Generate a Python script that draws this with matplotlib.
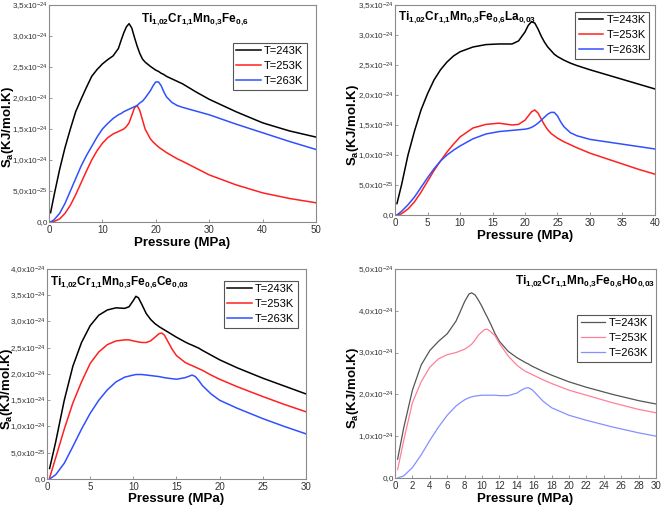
import numpy as np
import matplotlib
matplotlib.use("Agg")
import matplotlib.pyplot as plt
from matplotlib.ticker import FuncFormatter

plt.rcParams['font.family'] = ['Liberation Sans', 'DejaVu Sans']
plt.rcParams['mathtext.fontset'] = 'custom'
plt.rcParams['mathtext.rm'] = 'Liberation Sans'
plt.rcParams['mathtext.bf'] = 'Liberation Sans:bold'
plt.rcParams['mathtext.it'] = 'Liberation Sans:italic'

# Sa values in units of 1e-24 KJ/mol.K
legend_labels = ['T=243K', 'T=253K', 'T=263K']

# Ti1,02Cr1,1Mn0,3Fe0,6
p1 = [0.3, 1, 2, 3, 4, 5, 6, 7, 8, 9, 10, 11, 12, 13, 13.5, 14, 14.5, 15, 15.5, 16,
      16.5, 17, 17.5, 18, 19, 19.5, 20, 20.5, 21, 21.5, 22, 23, 24, 25, 27.5, 30, 35, 40, 45, 50]
p1_243 = [0.15, 0.45, 0.85, 1.2, 1.5, 1.78, 1.98, 2.17, 2.35, 2.46, 2.55, 2.62, 2.68, 2.8, 2.93, 3.05,
          3.15, 3.2, 3.13, 2.98, 2.84, 2.72, 2.63, 2.58, 2.51, 2.48, 2.45, 2.43, 2.4, 2.38, 2.35, 2.31,
          2.27, 2.23, 2.1, 1.98, 1.78, 1.6, 1.47, 1.37]
p1_253 = [0.0, 0.01, 0.05, 0.14, 0.27, 0.44, 0.63, 0.82, 1.0, 1.15, 1.27, 1.36, 1.42, 1.46, 1.48, 1.5,
          1.54, 1.6, 1.72, 1.84, 1.88, 1.8, 1.65, 1.5, 1.34, 1.29, 1.25, 1.21, 1.18, 1.15, 1.12, 1.07,
          1.02, 0.98, 0.87, 0.76, 0.6, 0.47, 0.38, 0.31]
p1_263 = [0.0, 0.04, 0.14, 0.3, 0.5, 0.7, 0.9, 1.07, 1.22, 1.37, 1.5, 1.59, 1.67, 1.73, 1.75, 1.78,
          1.8, 1.82, 1.84, 1.86, 1.88, 1.92, 1.95, 2.0, 2.12, 2.2, 2.26, 2.26, 2.2, 2.1, 2.02, 1.93,
          1.88, 1.85, 1.79, 1.73, 1.58, 1.44, 1.3, 1.17]

# Ti1,02Cr1,1Mn0,3Fe0,6La0,03
p2 = [0.3, 1, 2, 3, 4, 5, 6, 7, 8, 9, 10, 12, 14, 16, 18, 19, 20, 20.5, 21, 21.5, 22, 22.5, 23,
      23.5, 24, 24.5, 25, 25.5, 26, 27, 28, 30, 32.5, 35, 37.5, 40]
p2_243 = [0.19, 0.5, 1.0, 1.4, 1.75, 2.02, 2.25, 2.42, 2.55, 2.65, 2.72, 2.8, 2.84, 2.85, 2.85, 2.9,
          3.05, 3.16, 3.22, 3.2, 3.1, 2.98, 2.88, 2.8, 2.74, 2.68, 2.64, 2.61, 2.58, 2.53, 2.49, 2.42,
          2.34, 2.26, 2.18, 2.1]
p2_253 = [0.0, 0.02, 0.1, 0.22, 0.38, 0.56, 0.74, 0.9, 1.05, 1.18, 1.3, 1.45, 1.51, 1.53, 1.5, 1.51,
          1.58, 1.65, 1.72, 1.75, 1.7, 1.6, 1.5, 1.42, 1.36, 1.32, 1.28, 1.25, 1.22, 1.17, 1.12, 1.03,
          0.94, 0.85, 0.76, 0.68]
p2_263 = [0.0, 0.06, 0.17, 0.3, 0.46, 0.62, 0.77, 0.9, 1.0, 1.08, 1.15, 1.27, 1.35, 1.39, 1.41, 1.42,
          1.43, 1.44, 1.46, 1.49, 1.53, 1.58, 1.63, 1.68, 1.71, 1.71, 1.65, 1.55, 1.47, 1.37, 1.32, 1.26,
          1.22, 1.18, 1.14, 1.1]

# Ti1,02Cr1,1Mn0,3Fe0,6Ce0,03
p3 = [0.3, 1, 2, 3, 4, 5, 6, 7, 8, 9, 9.5, 10, 10.3, 10.6, 11, 11.5, 12, 12.5, 13, 13.3, 13.6, 14,
      14.5, 15, 16, 16.5, 16.8, 17.2, 17.6, 18, 19, 20, 22, 25, 27.5, 30]
p3_243 = [0.2, 0.7, 1.5, 2.15, 2.6, 2.92, 3.12, 3.22, 3.26, 3.25, 3.28, 3.4, 3.48, 3.45, 3.32, 3.15,
          3.04, 2.96, 2.9, 2.87, 2.84, 2.8, 2.75, 2.7, 2.61, 2.57, 2.55, 2.52, 2.49, 2.45, 2.36, 2.27,
          2.12, 1.92, 1.77, 1.62]
p3_253 = [0.02, 0.4, 0.95, 1.45, 1.85, 2.2, 2.42, 2.56, 2.63, 2.65, 2.65, 2.63, 2.62, 2.61, 2.6, 2.6,
          2.63, 2.7, 2.77, 2.78, 2.74, 2.62, 2.47, 2.35, 2.22, 2.18, 2.16, 2.13, 2.1, 2.07, 1.98, 1.9,
          1.76, 1.57, 1.42, 1.28]
p3_263 = [0.0, 0.08, 0.3, 0.62, 0.95, 1.25, 1.5, 1.7, 1.85, 1.94, 1.96, 1.98, 1.99, 1.99, 1.99, 1.98,
          1.97, 1.96, 1.95, 1.94, 1.93, 1.92, 1.91, 1.9, 1.93, 1.96, 1.98, 1.95, 1.87, 1.78, 1.62, 1.5,
          1.35, 1.15, 1.0, 0.86]

# Ti1,02Cr1,1Mn0,3Fe0,6Ho0,03
p4 = [0.3, 1, 2, 3, 4, 5, 6, 7, 7.5, 8, 8.5, 8.8, 9.2, 9.6, 10, 10.3, 10.6, 11, 11.5, 12, 13, 14,
      14.5, 15, 15.3, 15.7, 16, 16.5, 17, 18, 20, 22, 25, 28, 30]
p4_243 = [0.45, 1.2, 2.1, 2.7, 3.05, 3.27, 3.45, 3.75, 3.98, 4.22, 4.4, 4.43, 4.38, 4.25, 4.1, 3.97,
          3.85, 3.68, 3.45, 3.27, 3.03, 2.88, 2.82, 2.76, 2.73, 2.68, 2.65, 2.6, 2.55, 2.46, 2.3, 2.17,
          2.0, 1.85, 1.77]
p4_253 = [0.2, 0.9, 1.8, 2.3, 2.65, 2.85, 2.95, 3.0, 3.04, 3.08, 3.15, 3.2, 3.3, 3.42, 3.5, 3.55,
          3.56, 3.5, 3.4, 3.22, 2.92, 2.7, 2.62, 2.55, 2.52, 2.48, 2.45, 2.4, 2.35, 2.26, 2.1, 1.98,
          1.8, 1.64, 1.56]
p4_263 = [0.0, 0.05, 0.25, 0.55, 0.9, 1.22, 1.5, 1.72, 1.8, 1.87, 1.92, 1.94, 1.96, 1.97, 1.98, 1.98,
          1.98, 1.98, 1.98, 1.97, 1.97, 2.03, 2.1, 2.15, 2.16, 2.12, 2.06, 1.95, 1.84, 1.68, 1.5, 1.38,
          1.22, 1.08, 1.0]


def sa_label(v, pos):
    if abs(v) < 1e-9:
        return '0,0'
    if v < 1:
        return (r'%.1f' % (v * 10)).replace('.', ',') + r'x10$^{-25}$'
    return (r'%.1f' % v).replace('.', ',') + r'x10$^{-24}$'


panels = [
    dict(rect=[0.0741, 0.563, 0.404, 0.427], x=p1, ys=[p1_243, p1_253, p1_263], xmax=50, xstep=10,
         ymax=3.5, ystep=0.5, colors=['black', '#ff2020', '#3050ff'], lw=1.1,
         title=r'$\mathbf{Ti_{1{,}02}Cr_{1{,}1}Mn_{0{,}3}Fe_{0{,}6}}$', tpos=(0.545, 0.93), tha='center',
         leg=(0.966, 0.825), ylab=(-0.125, 0.44), xlab=(0.5, -0.068)),
    dict(rect=[0.5976, 0.5768, 0.3933, 0.4134], x=p2, ys=[p2_243, p2_253, p2_263], xmax=40, xstep=5,
         ymax=3.5, ystep=0.5, colors=['black', '#ff2020', '#3050ff'], lw=1.1,
         title=r'$\mathbf{Ti_{1{,}02}Cr_{1{,}1}Mn_{0{,}3}Fe_{0{,}6}La_{0{,}03}}$', tpos=(0.012, 0.938), tha='left',
         leg=(0.977, 0.967), ylab=(-0.13, 0.43), xlab=(0.5, -0.07)),
    dict(rect=[0.0711, 0.0571, 0.3918, 0.4134], x=p3, ys=[p3_243, p3_253, p3_263], xmax=30, xstep=5,
         ymax=4.0, ystep=0.5, colors=['black', '#ff2020', '#3050ff'], lw=1.1,
         title=r'$\mathbf{Ti_{1{,}02}Cr_{1{,}1}Mn_{0{,}3}Fe_{0{,}6}Ce_{0{,}03}}$', tpos=(0.012, 0.933), tha='left',
         leg=(0.969, 0.943), ylab=(-0.124, 0.43), xlab=(0.5, -0.068)),
    dict(rect=[0.5976, 0.0591, 0.3949, 0.4114], x=p4, ys=[p4_243, p4_253, p4_263], xmax=30, xstep=2,
         ymax=5.0, ystep=1.0, colors=['#555555', '#ff8098', '#8490ff'], lw=0.9,
         title=r'$\mathbf{Ti_{1{,}02}Cr_{1{,}1}Mn_{0{,}3}Fe_{0{,}6}Ho_{0{,}03}}$', tpos=(0.996, 0.938), tha='right',
         leg=(0.981, 0.78), ylab=(-0.13, 0.43), xlab=(0.5, -0.072)),
]

fig = plt.figure(figsize=(6.61, 5.08), dpi=100)

for pn in panels:
    ax = fig.add_axes(pn['rect'])
    for y, c, lab in zip(pn['ys'], pn['colors'], legend_labels):
        ax.plot(pn['x'], y, color=c, lw=pn['lw'], label=lab)
    ax.set_xlim(0, pn['xmax'])
    ax.set_ylim(0, pn['ymax'])
    ax.set_xticks(np.arange(0, pn['xmax'] + 0.01, pn['xstep']))
    ax.set_yticks(np.arange(0, pn['ymax'] + 0.01, pn['ystep']))
    ax.yaxis.set_major_formatter(FuncFormatter(sa_label))
    ax.tick_params(direction='in', length=2, width=0.6, color='#888888', labelcolor='#333333')
    ax.tick_params(axis='x', labelsize=7, pad=2)
    ax.tick_params(axis='y', labelsize=5.9, pad=0.6)
    for sp in ax.spines.values():
        sp.set_color('#8a8a8a')
        sp.set_linewidth(0.8)
    ax.set_xlabel('Pressure (MPa)', fontsize=9.5, fontweight='bold')
    ax.set_ylabel(r'$\mathbf{S_a}$(KJ/mol.K)', fontsize=9.5, fontweight='bold')
    ax.xaxis.set_label_coords(*pn['xlab'])
    ax.yaxis.set_label_coords(*pn['ylab'])
    ax.text(pn['tpos'][0], pn['tpos'][1], pn['title'], transform=ax.transAxes, fontsize=8.5,
            ha=pn['tha'], va='center')
    leg = ax.legend(loc='upper right', bbox_to_anchor=pn['leg'], borderaxespad=0, fontsize=8,
                    fancybox=False, framealpha=1, edgecolor='#555555', handlelength=2.2,
                    handletextpad=0.3, labelspacing=0.45, borderpad=0.3)
    leg.get_frame().set_linewidth(0.8)

fig.savefig('out.png', dpi=100)
